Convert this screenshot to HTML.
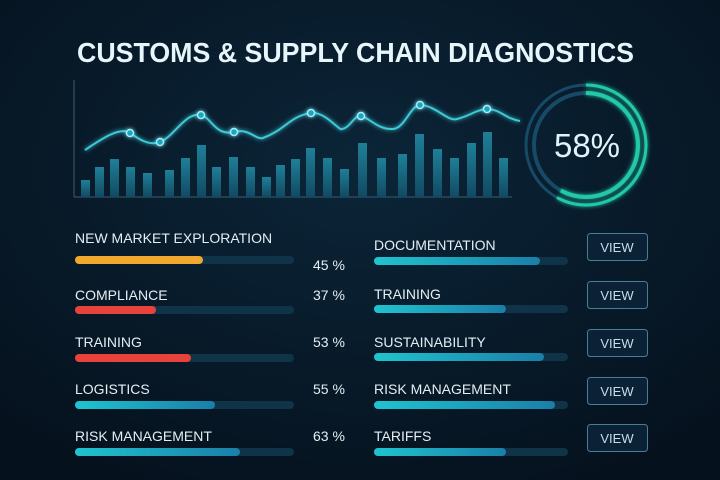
<!DOCTYPE html>
<html><head><meta charset="utf-8"><style>
html,body{margin:0;padding:0;background:#071a2b;}
svg{display:block}
text{font-family:"Liberation Sans",sans-serif;}
</style></head><body>
<svg width="720" height="480" viewBox="0 0 720 480" xmlns="http://www.w3.org/2000/svg">
<defs>
<radialGradient id="bg" cx="50%" cy="35%" r="75%">
<stop offset="0" stop-color="#0b2538"/><stop offset="1" stop-color="#05111d"/>
</radialGradient>
<linearGradient id="bar" x1="0" y1="0" x2="0" y2="1">
<stop offset="0" stop-color="#1f7f98"/><stop offset="1" stop-color="#114a62"/>
</linearGradient>
<linearGradient id="tl" x1="0" y1="0" x2="1" y2="0">
<stop offset="0" stop-color="#1fc4cf"/><stop offset="1" stop-color="#1a7fa8"/>
</linearGradient>
<filter id="glow"><feGaussianBlur stdDeviation="2" result="b"/><feMerge><feMergeNode in="b"/><feMergeNode in="SourceGraphic"/></feMerge></filter>
</defs>
<rect width="720" height="480" fill="url(#bg)"/>
<text x="77" y="62" font-size="28" font-weight="bold" fill="#e6f6fb" textLength="557" lengthAdjust="spacingAndGlyphs">CUSTOMS &amp; SUPPLY CHAIN DIAGNOSTICS</text>

<line x1="74" y1="80" x2="74" y2="197" stroke="#3a5d75" stroke-width="1"/>
<line x1="74" y1="197" x2="512" y2="197" stroke="#3a5d75" stroke-width="1"/>
<g fill="url(#bar)">
<rect x="81" y="180" width="9" height="17"/>
<rect x="95" y="167" width="9" height="30"/>
<rect x="110" y="159" width="9" height="38"/>
<rect x="126" y="167" width="9" height="30"/>
<rect x="143" y="173" width="9" height="24"/>
<rect x="165" y="170" width="9" height="27"/>
<rect x="181" y="158" width="9" height="39"/>
<rect x="197" y="145" width="9" height="52"/>
<rect x="212" y="167" width="9" height="30"/>
<rect x="229" y="157" width="9" height="40"/>
<rect x="246" y="167" width="9" height="30"/>
<rect x="262" y="177" width="9" height="20"/>
<rect x="276" y="165" width="9" height="32"/>
<rect x="291" y="159" width="9" height="38"/>
<rect x="306" y="148" width="9" height="49"/>
<rect x="323" y="158" width="9" height="39"/>
<rect x="340" y="169" width="9" height="28"/>
<rect x="358" y="143" width="9" height="54"/>
<rect x="377" y="158" width="9" height="39"/>
<rect x="398" y="154" width="9" height="43"/>
<rect x="415" y="134" width="9" height="63"/>
<rect x="433" y="149" width="9" height="48"/>
<rect x="450" y="158" width="9" height="39"/>
<rect x="467" y="143" width="9" height="54"/>
<rect x="483" y="132" width="9" height="65"/>
<rect x="499" y="158" width="9" height="39"/>
</g>
<path d="M85,150 C100,140 120,126 130,133 C140,140 150,146 160,142 C175,136 185,112 201,115 C212,118 215,136 234,132 C250,128 255,140 263,138 C285,130 290,116 311,113 C325,111 340,132 342,129 C350,128 355,114 361,116 C370,118 378,130 393,129 C405,128 410,106 420,105 C435,105 448,122 457,119 C470,116 475,110 487,109 C500,109 506,119 520,121" fill="none" stroke="#3ec9d6" stroke-width="2" filter="url(#glow)"/>
<g fill="#1aa7b8" stroke="#9fefff" stroke-width="1.5" filter="url(#glow)">
<circle cx="130" cy="133" r="3.5"/><circle cx="160" cy="142" r="3.5"/><circle cx="201" cy="115" r="3.5"/><circle cx="234" cy="132" r="3.5"/><circle cx="311" cy="113" r="3.5"/><circle cx="361" cy="116" r="3.5"/><circle cx="420" cy="105" r="3.5"/><circle cx="487" cy="109" r="3.5"/>
</g>

<g transform="translate(586,145)">
<circle r="60" fill="none" stroke="#164a66" stroke-width="3"/>
<circle r="52" fill="none" stroke="#164a66" stroke-width="4"/>
<circle r="60" fill="none" stroke="#23c9a8" stroke-width="3" stroke-dasharray="218.6 1000" transform="rotate(-90)" filter="url(#glow)"/>
<circle r="52" fill="none" stroke="#23c9a8" stroke-width="4" stroke-dasharray="189.5 1000" transform="rotate(-90)" filter="url(#glow)"/>
<text x="1" y="12" font-size="33" fill="#dff4fa" text-anchor="middle">58%</text>
</g>

<g font-size="14" fill="#e4eef3">
<text x="75" y="243">NEW MARKET EXPLORATION</text>
<text x="75" y="300">COMPLIANCE</text>
<text x="75" y="347">TRAINING</text>
<text x="75" y="394">LOGISTICS</text>
<text x="75" y="441">RISK MANAGEMENT</text>
<text x="313" y="270">45 %</text>
<text x="313" y="300">37 %</text>
<text x="313" y="347">53 %</text>
<text x="313" y="394">55 %</text>
<text x="313" y="441">63 %</text>
<text x="374" y="250">DOCUMENTATION</text>
<text x="374" y="299">TRAINING</text>
<text x="374" y="347">SUSTAINABILITY</text>
<text x="374" y="394">RISK MANAGEMENT</text>
<text x="374" y="441">TARIFFS</text>
</g>
<g fill="#0f3347">
<rect x="75" y="256" width="219" height="8" rx="4"/>
<rect x="75" y="306" width="219" height="8" rx="4"/>
<rect x="75" y="354" width="219" height="8" rx="4"/>
<rect x="75" y="401" width="219" height="8" rx="4"/>
<rect x="75" y="448" width="219" height="8" rx="4"/>
<rect x="374" y="257" width="194" height="8" rx="4"/>
<rect x="374" y="305" width="194" height="8" rx="4"/>
<rect x="374" y="353" width="194" height="8" rx="4"/>
<rect x="374" y="401" width="194" height="8" rx="4"/>
<rect x="374" y="448" width="194" height="8" rx="4"/>
</g>
<rect x="75" y="256" width="128" height="8" rx="4" fill="#f0a92c"/>
<rect x="75" y="306" width="81" height="8" rx="4" fill="#e8423a"/>
<rect x="75" y="354" width="116" height="8" rx="4" fill="#e8423a"/>
<g fill="url(#tl)">
<rect x="75" y="401" width="140" height="8" rx="4"/>
<rect x="75" y="448" width="165" height="8" rx="4"/>
<rect x="374" y="257" width="166" height="8" rx="4"/>
<rect x="374" y="305" width="132" height="8" rx="4"/>
<rect x="374" y="353" width="170" height="8" rx="4"/>
<rect x="374" y="401" width="181" height="8" rx="4"/>
<rect x="374" y="448" width="132" height="8" rx="4"/>
</g>
<g fill="#0b2236" stroke="#4d7d92" stroke-width="1">
<rect x="587.5" y="233.5" width="60" height="27" rx="3"/>
<rect x="587.5" y="281.5" width="60" height="27" rx="3"/>
<rect x="587.5" y="329.5" width="60" height="27" rx="3"/>
<rect x="587.5" y="377.5" width="60" height="27" rx="3"/>
<rect x="587.5" y="424.5" width="60" height="27" rx="3"/>
</g>
<g font-size="13" fill="#c8dce5" text-anchor="middle">
<text x="617" y="252">VIEW</text>
<text x="617" y="300">VIEW</text>
<text x="617" y="348">VIEW</text>
<text x="617" y="396">VIEW</text>
<text x="617" y="443">VIEW</text>
</g>
</svg>
</body></html>
